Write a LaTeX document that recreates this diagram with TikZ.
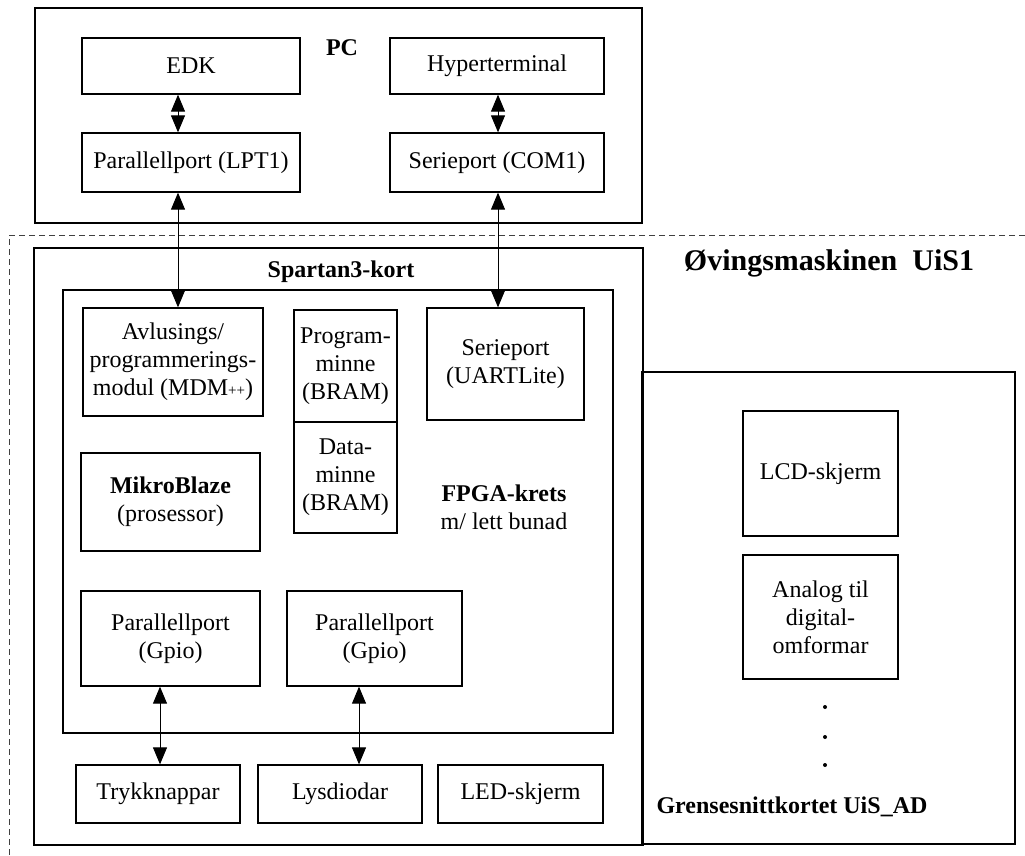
\documentclass[tikz,border=0pt]{standalone}
\usepackage{fontspec}
\setmainfont{Liberation Serif}
\usetikzlibrary{arrows.meta}
\begin{document}
\begin{tikzpicture}[x=1pt,y=-1pt,
  txt/.style={font=\fontsize{24}{28}\selectfont, align=center},
  box/.style={txt, draw, line width=1.3pt, inner sep=1pt},
  frame/.style={draw, line width=2.8pt, inner sep=0pt},
  label/.style={font=\bfseries\fontsize{24}{28}\selectfont, align=center, inner sep=0pt},
  link/.style={line width=1pt, {Triangle[length=17pt,width=14pt]}-{Triangle[length=17pt,width=14pt]}},
  ]
\useasboundingbox (0,0) rectangle (1025,855);

% PC
\node[frame, minimum width=607pt, minimum height=215pt] (pc) at (338.5,115.5) {};
\node[label] (pclabel) at (342,48) {PC};
\node[box, minimum width=218pt, minimum height=56pt] (edk) at (191,66) {EDK};
\node[box, minimum width=214pt, minimum height=56pt] (hyper) at (497,66) {Hyperterminal};
\node[box, minimum width=218pt, minimum height=59pt] (lpt) at (191,162.5) {Parallellport (LPT1)};
\node[box, minimum width=214pt, minimum height=59pt] (com) at (497,162.5) {Serieport (COM1)};

% boundary of the training machine
\draw[line width=0.9pt, black!75, dash pattern=on 6pt off 4pt] (1025,235) -- (9,235) -- (9,855);
\node[label, font=\bfseries\fontsize{30}{34}\selectfont] (uis) at (829,263) {Øvingsmaskinen\ \ UiS1};

% Spartan3 board
\node[frame, minimum width=609pt, minimum height=597pt] (spartan) at (338.5,546.5) {};
\node[label] (spartanlabel) at (341,272) {Spartan3-kort};
\node[frame, minimum width=550pt, minimum height=443pt] (fpga) at (338,511.5) {};

\node[box, minimum width=180pt, minimum height=108pt] (mdm) at (173,362)
  {Avlusings/\\programmerings-\\modul (MDM{\fontsize{15}{15}\selectfont ++})};
\node[box, minimum width=103pt, minimum height=112pt] (pmem) at (345.5,366) {Program-\\minne\\(BRAM)};
\node[box, minimum width=103pt, minimum height=111pt] (dmem) at (345.5,477.5) {Data-\\minne\\(BRAM)};
\node[box, minimum width=157pt, minimum height=112pt] (uart) at (505.5,364) {Serieport\\(UARTLite)};
\node[box, minimum width=179pt, minimum height=98pt] (mb) at (170.5,502) {\textbf{MikroBlaze}\\(prosessor)};
\node[txt, inner sep=0pt] (fpgalabel) at (504,507) {\textbf{FPGA-krets}\\m/ lett bunad};
\node[box, minimum width=179pt, minimum height=95pt] (gpioa) at (170.5,638.5) {Parallellport\\(Gpio)};
\node[box, minimum width=175pt, minimum height=95pt] (gpiob) at (374.5,638.5) {Parallellport\\(Gpio)};

\node[box, minimum width=164pt, minimum height=58pt] (knapp) at (158,794) {Trykknappar};
\node[box, minimum width=164pt, minimum height=58pt] (lys) at (340,794) {Lysdiodar};
\node[box, minimum width=165pt, minimum height=58pt] (led) at (520.5,794) {LED-skjerm};

% interface board
\node[frame, minimum width=373pt, minimum height=472pt] (ad) at (828.5,608) {};
\node[box, minimum width=155pt, minimum height=125pt] (lcd) at (820.5,473.5) {LCD-skjerm};
\node[box, minimum width=155pt, minimum height=124pt] (adc) at (820.5,617) {Analog til\\digital-\\omformar};
\fill (825,707) circle (2pt) (825,737) circle (2pt) (825,765) circle (2pt);
\node[label] (adlabel) at (792,807) {Grensesnittkortet UiS\_AD};

% connections
\draw[link] ([xshift=-13pt]edk.south) -- ([xshift=-13pt]lpt.north);
\draw[link] ([xshift=1pt]hyper.south) -- ([xshift=1pt]com.north);
\draw[link] ([xshift=-13pt]lpt.south) -- ([xshift=-13pt]lpt.south |- mdm.north);
\draw[link] ([xshift=1pt]com.south) -- ([xshift=1pt]com.south |- uart.north);
\draw[link] ([xshift=-10.5pt]gpioa.south) -- ([xshift=-10.5pt]gpioa.south |- knapp.north);
\draw[link] ([xshift=-15.5pt]gpiob.south) -- ([xshift=-15.5pt]gpiob.south |- lys.north);
\end{tikzpicture}
\end{document}
